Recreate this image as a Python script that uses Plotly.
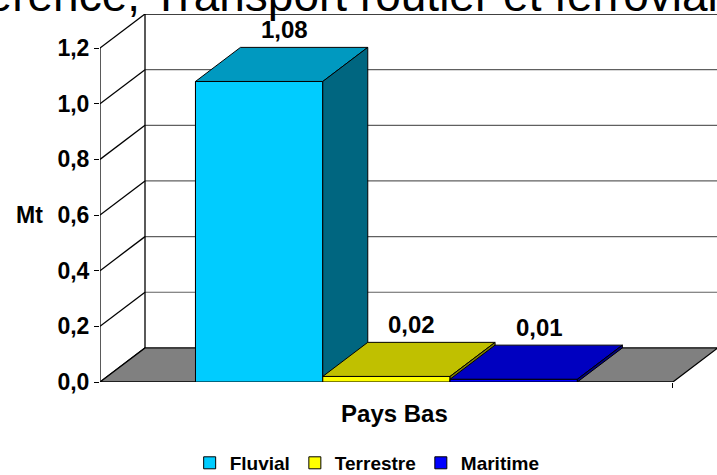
import plotly.graph_objects as go

# ---------------- data ----------------
categories = ["Pays Bas"]
series_names = ["Fluvial", "Terrestre", "Maritime"]
values = [1.08, 0.02, 0.01]
y_ticks = [0.0, 0.2, 0.4, 0.6, 0.8, 1.0, 1.2]
title_text = "Référence, Transport routier et ferroviaire"
y_unit = "Mt"

front_colors = ["#00CCFF", "#FFFF00", "#0000FF"]
top_colors = ["#0099C0", "#C0C000", "#0000C0"]
side_colors = ["#006680", "#808000", "#000080"]

# ---------------- style / 3D geometry ----------------
FONT = "Arial, 'Liberation Sans', sans-serif"
BAR_W = 1.0          # width of one bar (x units)
FLOOR_PAD = 0.75     # floor overhang on each side of the group
DX = 0.3535          # depth offset (x units)
DY = 0.1225          # depth offset (y units)
Y_MAX = max(y_ticks)
GROUP_CENTER = 0.0
PX_PER_X = 127.3
PLOT_W = 617

n = len(series_names)
half = n * BAR_W / 2 + FLOOR_PAD
XL = GROUP_CENTER - half
XR_FRONT = GROUP_CENTER + half
x_range = [XL, XL + PLOT_W / PX_PER_X]
y_range = [0, Y_MAX + DY]

fig = go.Figure()

# legend entries / base bars (covered by the 3D faces)
for i, (name, v) in enumerate(zip(series_names, values)):
    xc = GROUP_CENTER + (i - (n - 1) / 2) * BAR_W
    fig.add_trace(go.Bar(
        x=[xc], y=[v], width=BAR_W, name=name,
        marker=dict(color=front_colors[i], line=dict(color="black", width=1)),
        hoverinfo="skip",
    ))

# back-wall gridlines (gray)
gx, gy = [], []
for v in y_ticks[1:-1]:
    gx += [XL + DX, x_range[1] + 1, None]
    gy += [v + DY, v + DY, None]
fig.add_trace(go.Scatter(x=gx, y=gy, mode="lines", line=dict(color="#606060", width=1.2),
                         showlegend=False, hoverinfo="skip", cliponaxis=False))

# top back-wall line, wall edges, diagonals, front axis
lx, ly = [], []
lx += [XL + DX, x_range[1] + 1, None]
ly += [Y_MAX + DY, Y_MAX + DY, None]
lx += [XL + DX, XL + DX, None]
ly += [DY, Y_MAX + DY, None]
lx += [XL, XL, None]
ly += [0, Y_MAX, None]
for v in y_ticks:
    lx += [XL, XL + DX, None]
    ly += [v, v + DY, None]
fig.add_trace(go.Scatter(x=lx, y=ly, mode="lines", line=dict(color="black", width=1.3),
                         showlegend=False, hoverinfo="skip", cliponaxis=False))

# floor
fig.add_trace(go.Scatter(
    x=[XL, XR_FRONT, XR_FRONT + DX, XL + DX, XL],
    y=[0, 0, DY, DY, 0],
    mode="lines", fill="toself", fillcolor="#808080",
    line=dict(color="black", width=1.3), showlegend=False, hoverinfo="skip", cliponaxis=False))

# 3D bars
annotations = []
for i, (name, v) in enumerate(zip(series_names, values)):
    xc = GROUP_CENTER + (i - (n - 1) / 2) * BAR_W
    x0, x1 = xc - BAR_W / 2, xc + BAR_W / 2
    # front
    fig.add_trace(go.Scatter(x=[x0, x1, x1, x0, x0], y=[0, 0, v, v, 0], mode="lines",
                             fill="toself", fillcolor=front_colors[i],
                             line=dict(color="black", width=1), showlegend=False, hoverinfo="skip"))
    # top
    fig.add_trace(go.Scatter(x=[x0, x1, x1 + DX, x0 + DX, x0], y=[v, v, v + DY, v + DY, v],
                             mode="lines", fill="toself", fillcolor=top_colors[i],
                             line=dict(color="black", width=1), showlegend=False, hoverinfo="skip"))
    # side
    fig.add_trace(go.Scatter(x=[x1, x1 + DX, x1 + DX, x1, x1], y=[0, DY, v + DY, v, 0],
                             mode="lines", fill="toself", fillcolor=side_colors[i],
                             line=dict(color="black", width=1), showlegend=False, hoverinfo="skip"))
    annotations.append(dict(
        x=xc + DX / 2, y=v + DY, xref="x", yref="y", yanchor="bottom", yshift=2, xshift=3,
        text=f"{v:.2f}".replace(".", ","), showarrow=False,
        font=dict(family=FONT, size=24, color="black", weight="bold")))

annotations.append(dict(
    x=-0.115, y=0.6, xref="paper", yref="y", xanchor="center", yanchor="middle",
    text=y_unit, showarrow=False, font=dict(family=FONT, size=23, color="black", weight="bold")))

annotations.append(dict(
    x=-0.303, y=1.052, xref="paper", yref="paper", xanchor="left", yanchor="middle",
    text=title_text, showarrow=False, font=dict(family=FONT, size=46, color="black")))

fig.update_layout(
    width=717, height=475,
    margin=dict(l=100, r=0, t=14, b=93, autoexpand=False),
    paper_bgcolor="white", plot_bgcolor="white",
    separators=",.",
    barmode="overlay",
    showlegend=True,
    legend=dict(orientation="h", x=0.433, xanchor="center", y=-0.22, yanchor="middle",
                font=dict(family=FONT, size=19, color="black", weight="bold"),
                itemwidth=30, bgcolor="rgba(0,0,0,0)"),
    annotations=annotations,
    xaxis=dict(range=x_range, showgrid=False, zeroline=False, showline=False, automargin=False,
               tickvals=[GROUP_CENTER], ticktext=categories, ticks="",
               ticklabelstandoff=15, ticklabelshift=8,
               tickfont=dict(family=FONT, size=24, color="black", weight="bold"),
               minor=dict(tickvals=[XR_FRONT], ticks="outside", ticklen=5, tickcolor="black", tickwidth=1)),
    yaxis=dict(range=y_range, showgrid=False, zeroline=False, showline=False, automargin=False,
               tickvals=y_ticks, tickformat=".1f", ticks="outside", ticklen=5,
               tickcolor="black", tickwidth=1.3,
               tickfont=dict(family=FONT, size=23, color="black", weight="bold")),
)

fig.write_html("out.html", config={"displayModeBar": False},
               post_script="document.body.style.margin='0';document.body.style.overflow='hidden';")
